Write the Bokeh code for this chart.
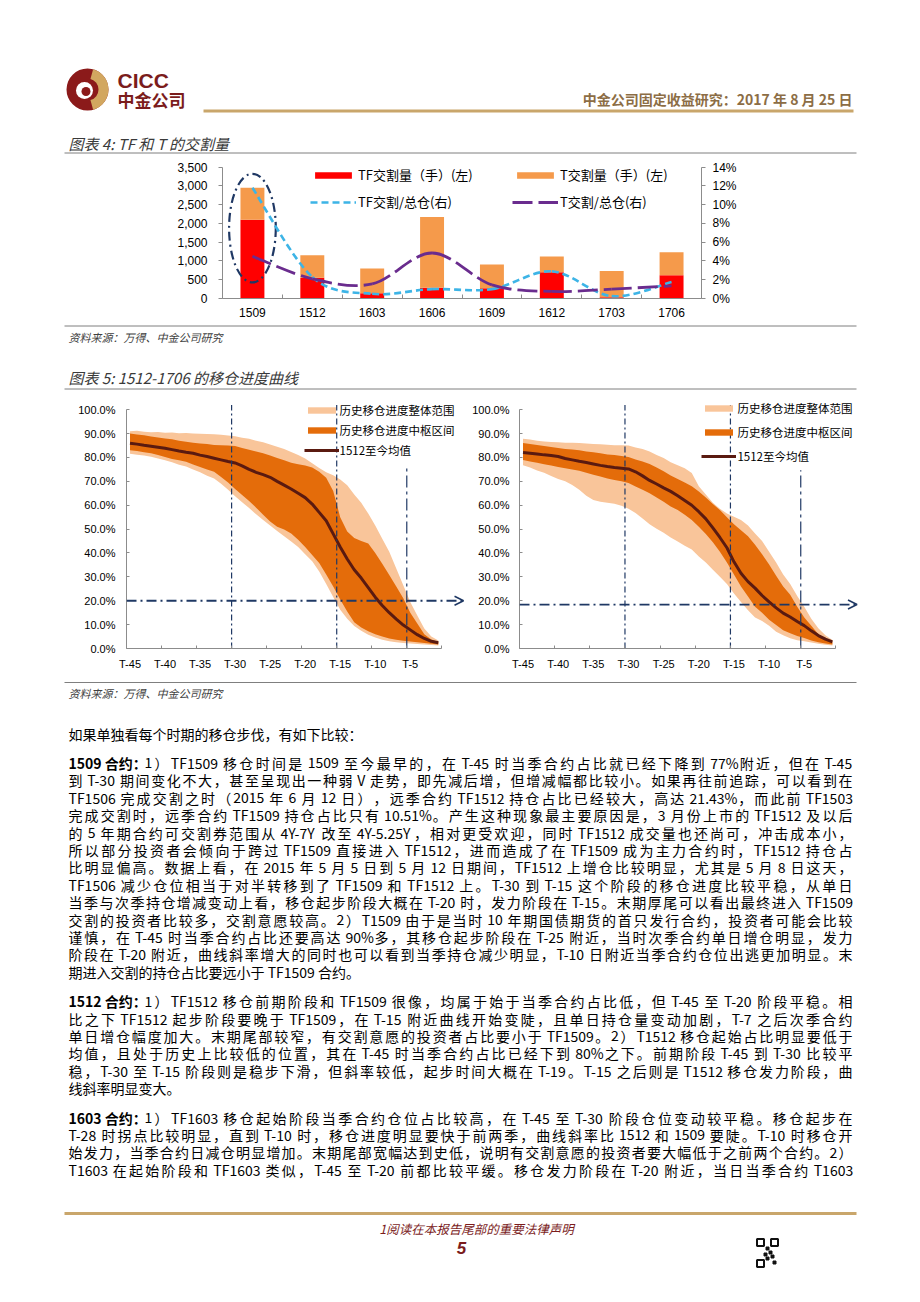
from bokeh.plotting import figure
from bokeh.models import (Range1d, LinearAxis, Legend, LegendItem, FixedTicker,
                          NumeralTickFormatter, PrintfTickFormatter, Arrow, OpenHead,
                          ColumnDataSource)
from bokeh.layouts import column, row
from bokeh.core.properties import value
from bokeh.embed import file_html
from bokeh.resources import INLINE

# ---------------- chart 4 data ----------------
contracts = ["1509", "1512", "1603", "1606", "1609", "1612", "1703", "1706"]
tf_delivery = [2100, 550, 140, 285, 275, 700, 35, 620]       # lots, left axis
t_delivery = [855, 605, 660, 1890, 630, 420, 695, 615]        # lots, left axis
tf_ratio = [11.8, 2.3, 0.5, 1.0, 1.0, 2.9, 0.25, 1.75]        # %, right axis
t_ratio = [4.5, 2.1, 1.55, 4.85, 1.45, 0.75, 1.0, 1.35]       # %, right axis
left_ticks = [0, 500, 1000, 1500, 2000, 2500, 3000, 3500]
right_ticks = [0, 2, 4, 6, 8, 10, 12, 14]

# ---------------- chart 5 data ----------------
day_labels = ["T-%d" % d for d in range(45, 0, -1)]
tick_days = ["T-45", "T-40", "T-35", "T-30", "T-25", "T-20", "T-15", "T-10", "T-5"]
marker_days = ["T-30", "T-15", "T-5"]
pct_ticks = [0, 10, 20, 30, 40, 50, 60, 70, 80, 90, 100]

L_outer_hi = [91.0, 91.2, 90.8, 90.6, 90.7, 90.4, 90.5, 90.2, 90.3, 90.0, 89.9, 89.8, 89.7, 89.5, 89.2,
              88.9, 88.3, 87.8, 87.0, 86.4, 85.4, 84.5, 83.6, 82.3, 81.0, 79.6, 77.6, 75.6, 73.8, 72.6,
              70.8, 68.4, 64.5, 61.0, 56.5, 51.5, 46.0, 40.5, 33.5, 26.5, 19.5, 13.8, 8.4, 5.0, 3.4]
L_outer_lo = [81.6, 81.2, 80.8, 80.3, 79.6, 78.8, 78.0, 77.0, 76.2, 75.0, 73.8, 72.4, 71.2, 69.0, 66.5,
              63.8, 61.3, 58.8, 56.2, 53.8, 51.5, 49.2, 47.0, 44.8, 42.5, 39.5, 36.5, 32.2, 27.0, 21.6,
              16.2, 12.5, 9.4, 7.4, 5.8, 4.6, 3.7, 3.0, 2.6, 2.3, 2.1, 1.9, 1.7, 1.5, 1.3]
L_inner_hi = [90.0, 89.6, 89.3, 88.8, 88.4, 88.0, 87.6, 87.0, 86.6, 86.2, 85.9, 85.6, 85.2, 85.1, 85.0,
              84.8, 84.0, 83.2, 82.5, 81.8, 80.8, 79.8, 78.8, 77.8, 77.2, 76.6, 75.8, 74.0, 71.5, 66.0,
              55.0, 49.0, 46.3, 45.0, 44.0, 40.0, 35.5, 30.8, 26.0, 21.0, 15.0, 10.5, 6.0, 3.8, 2.6]
L_inner_lo = [83.0, 82.7, 82.2, 81.8, 81.0, 80.2, 79.4, 78.8, 78.2, 77.1, 76.0, 75.0, 74.0, 71.8, 69.5,
              66.8, 64.3, 61.8, 59.0, 56.0, 53.2, 51.0, 49.8, 48.2, 45.5, 42.5, 39.2, 35.8, 31.0, 26.0,
              20.5, 15.5, 11.0, 8.8, 7.2, 6.0, 5.0, 4.2, 3.7, 3.2, 2.9, 2.6, 2.3, 2.0, 1.7]
L_mean = [86.0, 85.6, 85.1, 84.7, 84.3, 83.9, 83.3, 82.7, 82.2, 81.8, 81.0, 80.4, 79.7, 79.0, 78.3,
          77.7, 76.5, 75.0, 73.8, 72.8, 71.7, 70.0, 68.4, 66.8, 65.0, 63.2, 60.5, 57.0, 53.5, 48.0,
          42.5, 37.5, 33.0, 29.5, 25.5, 21.5, 18.0, 15.0, 12.3, 9.8, 7.8, 5.8, 4.2, 3.0, 2.4]
L_threshold = 20.0

R_outer_hi = [87.9, 87.5, 87.0, 86.7, 86.5, 86.4, 86.2, 86.2, 86.1, 85.9, 85.7, 85.5, 85.3, 85.1, 85.1,
              85.0, 84.2, 83.6, 82.5, 81.0, 79.8, 78.0, 76.8, 75.5, 73.5, 68.0, 64.5, 61.0, 58.5, 56.5,
              55.2, 53.8, 51.5, 48.2, 45.0, 40.5, 36.0, 31.0, 27.0, 22.0, 17.5, 12.5, 8.5, 5.5, 3.6]
R_outer_lo = [76.8, 75.8, 74.6, 73.6, 72.3, 71.0, 70.0, 68.5, 66.5, 64.0, 62.2, 61.5, 61.0, 60.6, 59.8,
              58.5, 56.8, 54.5, 52.0, 50.2, 48.5, 46.5, 44.8, 43.0, 41.5, 38.5, 36.0, 33.0, 30.0, 27.0,
              23.0, 19.5, 16.0, 13.0, 11.5, 9.5, 7.0, 5.5, 4.3, 3.5, 3.0, 2.5, 2.0, 1.6, 1.3]
R_inner_hi = [86.1, 85.6, 85.2, 84.8, 84.4, 84.0, 83.6, 83.3, 83.0, 82.5, 82.2, 81.8, 81.3, 81.0, 80.6,
              80.2, 79.2, 78.3, 77.3, 75.8, 74.2, 72.5, 71.0, 69.5, 68.0, 65.8, 63.2, 60.5, 58.0, 55.0,
              52.0, 49.5, 47.0, 43.5, 39.5, 35.2, 30.5, 26.0, 22.5, 17.5, 13.0, 9.5, 6.0, 4.0, 2.8]
R_inner_lo = [78.9, 78.3, 77.8, 77.2, 76.6, 76.0, 75.5, 75.0, 74.4, 73.6, 72.8, 72.0, 71.2, 70.6, 70.0,
              69.3, 67.8, 66.5, 65.0, 63.2, 61.5, 59.5, 58.0, 56.0, 53.8, 51.0, 48.0, 44.5, 40.5, 36.0,
              31.0, 26.0, 21.8, 17.5, 15.0, 12.0, 9.8, 7.6, 6.4, 5.2, 4.4, 3.4, 2.6, 2.1, 1.7]
R_mean = [82.1, 81.8, 81.5, 81.1, 80.8, 80.4, 79.6, 79.0, 78.4, 77.9, 77.3, 76.7, 76.2, 75.8, 75.5,
          75.2, 74.0, 72.3, 70.4, 68.9, 67.3, 65.8, 64.0, 62.0, 60.0, 57.3, 54.3, 50.5, 46.5, 42.2,
          36.3, 31.5, 28.0, 25.3, 22.2, 19.5, 17.0, 14.8, 13.2, 11.3, 9.6, 7.4, 5.4, 3.9, 2.8]
R_threshold = 18.4

# ---------------- page text ----------------
intro = "如果单独看每个时期的移仓步伐，有如下比较："
paragraphs = [
    ("1509 合约：", [
        "1）TF1509 移仓时间是 1509 至今最早的，在 T-45 时当季合约占比就已经下降到 77%附近，但在 T-45",
        "到 T-30 期间变化不大，甚至呈现出一种弱 V 走势，即先减后增，但增减幅都比较小。如果再往前追踪，可以看到在",
        "TF1506 完成交割之时（2015 年 6 月 12 日），远季合约 TF1512 持仓占比已经较大，高达 21.43%，而此前 TF1503",
        "完成交割时，远季合约 TF1509 持仓占比只有 10.51%。产生这种现象最主要原因是，3 月份上市的 TF1512 及以后",
        "的 5 年期合约可交割券范围从 4Y-7Y 改至 4Y-5.25Y，相对更受欢迎，同时 TF1512 成交量也还尚可，冲击成本小，",
        "所以部分投资者会倾向于跨过 TF1509 直接进入 TF1512，进而造成了在 TF1509 成为主力合约时，TF1512 持仓占",
        "比明显偏高。数据上看，在 2015 年 5 月 5 日到 5 月 12 日期间，TF1512 上增仓比较明显，尤其是 5 月 8 日这天，",
        "TF1506 减少仓位相当于对半转移到了 TF1509 和 TF1512 上。T-30 到 T-15 这个阶段的移仓进度比较平稳，从单日",
        "当季与次季持仓增减变动上看，移仓起步阶段大概在 T-20 时，发力阶段在 T-15。末期厚尾可以看出最终进入 TF1509",
        "交割的投资者比较多，交割意愿较高。2）T1509 由于是当时 10 年期国债期货的首只发行合约，投资者可能会比较",
        "谨慎，在 T-45 时当季合约占比还要高达 90%多，其移仓起步阶段在 T-25 附近，当时次季合约单日增仓明显，发力",
        "阶段在 T-20 附近，曲线斜率增大的同时也可以看到当季持仓减少明显，T-10 日附近当季合约仓位出逃更加明显。末",
        "期进入交割的持仓占比要远小于 TF1509 合约。",
    ]),
    ("1512 合约：", [
        "1）TF1512 移仓前期阶段和 TF1509 很像，均属于始于当季合约占比低，但 T-45 至 T-20 阶段平稳。相",
        "比之下 TF1512 起步阶段要晚于 TF1509，在 T-15 附近曲线开始变陡，且单日持仓量变动加剧，T-7 之后次季合约",
        "单日增仓幅度加大。末期尾部较窄，有交割意愿的投资者占比要小于 TF1509。2）T1512 移仓起始占比明显要低于",
        "均值，且处于历史上比较低的位置，其在 T-45 时当季合约占比已经下到 80%之下。前期阶段 T-45 到 T-30 比较平",
        "稳，T-30 至 T-15 阶段则是稳步下滑，但斜率较低，起步时间大概在 T-19。T-15 之后则是 T1512 移仓发力阶段，曲",
        "线斜率明显变大。",
    ]),
    ("1603 合约：", [
        "1）TF1603 移仓起始阶段当季合约仓位占比较高，在 T-45 至 T-30 阶段仓位变动较平稳。移仓起步在",
        "T-28 时拐点比较明显，直到 T-10 时，移仓进度明显要快于前两季，曲线斜率比 1512 和 1509 要陡。T-10 时移仓开",
        "始发力，当季合约日减仓明显增加。末期尾部宽幅达到史低，说明有交割意愿的投资者要大幅低于之前两个合约。2）",
        "T1603 在起始阶段和 TF1603 类似，T-45 至 T-20 前都比较平缓。移仓发力阶段在 T-20 附近，当日当季合约 T1603",
    ]),
]
# the last paragraph is cut by the page break, so its final line is justified too
last_line_justified = [False, False, True]

CJK = "Noto Sans CJK SC"
LAT = "Liberation Sans"
NAVY = "#1F3864"
GOLD = "#C9A66B"
MAROON = "#7B1C1C"
W = 912


def canvas(y0, y1):
    p = figure(width=W, height=int(round(y1 - y0)), x_range=Range1d(0, W),
               y_range=Range1d(y1, y0), output_backend="svg", toolbar_location=None,
               min_border=0, x_axis_location=None, y_axis_location=None,
               outline_line_color=None)
    p.grid.visible = False
    return p


def txt(p, x, y, s, size, color="#000000", font=CJK, style="normal", align="left"):
    p.text(x=[x], y=[y], text=[s], text_font=value(font), text_font_size=value("%spx" % size),
           text_color=color, text_font_style=style, text_align=align, text_baseline="middle")


def hline(p, x0, x1, y, color, width):
    p.segment(x0=[x0], y0=[y], x1=[x1], y1=[y], line_color=color, line_width=width)


# ---------------- top canvas (header + chart 4 title) ----------------
top = canvas(0, 160)
top.circle(x=[87], y=[89], radius=21, fill_color="#8B1A1A", line_color=None)
top.annular_wedge(x=[87], y=[89], inner_radius=11, outer_radius=21, start_angle=-1.3,
                  end_angle=1.3, fill_color="#D2A760", line_color=None)
top.circle(x=[84], y=[90], radius=8.5, fill_color="#FFFFFF", line_color=None)
top.circle(x=[85.5], y=[91], radius=4.5, fill_color="#8B1A1A", line_color=None)
txt(top, 117, 80, "CICC", 21, MAROON, LAT, "bold")
txt(top, 117, 99, "中金公司", 17, MAROON, CJK, "bold")
txt(top, 852, 98, "中金公司固定收益研究：2017 年 8 月 25 日", 14, "#8C6D45", CJK, "bold", "right")
hline(top, 203, 853, 110.5, GOLD, 3)
txt(top, 68, 143, "图表 4: TF 和 T 的交割量", 15, "#3A3A3A", CJK, "italic")
hline(top, 64, 856, 152.5, "#7F7F7F", 1)

# ---------------- chart 4 ----------------
n4 = len(contracts)
xs4 = [i + 0.5 for i in range(n4)]
AXIS4_PX = 131.3          # pixel length of the 0..3500 axis
FRAME4_PX = 138           # frame height
p4 = figure(width=W, height=164, x_range=Range1d(0, n4),
            y_range=Range1d(0, left_ticks[-1] * FRAME4_PX / AXIS4_PX),
            output_backend="svg", toolbar_location=None, min_border_left=222,
            min_border_right=211, min_border_top=0, min_border_bottom=26,
            outline_line_color=None)
p4.grid.visible = False
p4.extra_y_ranges = {"pct": Range1d(0, right_ticks[-1] * FRAME4_PX / AXIS4_PX)}

src4 = ColumnDataSource(dict(x=xs4, tf=tf_delivery, t=t_delivery))
bars = p4.vbar_stack(["tf", "t"], x="x", width=0.4, source=src4,
                     fill_color=["#FF0000", "#F59A4B"], line_color=None)

# highlight ellipse around the first contract
tot0 = tf_delivery[0] + t_delivery[0]
p4.ellipse(x=[xs4[0]], y=[tot0 * 0.635], width=[0.78], height=[tot0 * 0.98],
           fill_color=None, line_color=NAVY, line_width=2.2, line_dash="9 4 2 4")


def smooth(xv, yv):
    n = len(xv)
    d = dict(x0=[], y0=[], x1=[], y1=[], cx0=[], cy0=[], cx1=[], cy1=[])
    for i in range(n - 1):
        ip = max(i - 1, 0)
        i2 = min(i + 2, n - 1)
        d["x0"].append(xv[i]); d["y0"].append(yv[i])
        d["x1"].append(xv[i + 1]); d["y1"].append(yv[i + 1])
        d["cx0"].append(xv[i] + (xv[i + 1] - xv[ip]) / 6.0)
        d["cy0"].append(yv[i] + (yv[i + 1] - yv[ip]) / 6.0)
        d["cx1"].append(xv[i + 1] - (xv[i2] - xv[i]) / 6.0)
        d["cy1"].append(yv[i + 1] - (yv[i2] - yv[i]) / 6.0)
    return ColumnDataSource(d)


BLUE = "#3DB4E6"
PURPLE = "#6A2C8E"
p4.bezier(x0="x0", y0="y0", x1="x1", y1="y1", cx0="cx0", cy0="cy0", cx1="cx1", cy1="cy1",
          source=smooth(xs4, tf_ratio), y_range_name="pct", line_color=BLUE,
          line_width=2.6, line_dash="7 4")
p4.bezier(x0="x0", y0="y0", x1="x1", y1="y1", cx0="cx0", cy0="cy0", cx1="cx1", cy1="cy1",
          source=smooth(xs4, t_ratio), y_range_name="pct", line_color=PURPLE,
          line_width=2.8, line_dash="20 6")
# one-point lines (draw nothing) that carry the legend swatches of the two ratio series
leg_tf_line = p4.line(x=xs4[:1], y=tf_ratio[:1], y_range_name="pct", line_color=BLUE,
                      line_width=2.6, line_dash="7 4")
leg_t_line = p4.line(x=xs4[:1], y=t_ratio[:1], y_range_name="pct", line_color=PURPLE,
                     line_width=2.8, line_dash="20 6")


def style_axis(ax, size, color="#8C8C8C"):
    ax.axis_line_color = color
    ax.major_tick_line_color = color
    ax.minor_tick_line_color = None
    ax.major_label_text_font = LAT
    ax.major_label_text_font_size = size
    ax.major_label_text_color = "#000000"


ya = p4.yaxis[0]
ya.ticker = FixedTicker(ticks=left_ticks)
ya.formatter = NumeralTickFormatter(format="0,0")
ya.bounds = (left_ticks[0], left_ticks[-1])
style_axis(ya, "12px")
ya.major_tick_out = 4
ya.major_tick_in = 0
ya.major_label_standoff = 11

yr = LinearAxis(y_range_name="pct", ticker=FixedTicker(ticks=right_ticks),
                formatter=PrintfTickFormatter(format="%d%%"),
                bounds=(right_ticks[0], right_ticks[-1]))
style_axis(yr, "12px")
yr.major_tick_out = 4
yr.major_tick_in = 0
yr.major_label_standoff = 7
p4.add_layout(yr, "right")

xa = p4.xaxis[0]
xa.ticker = FixedTicker(ticks=xs4, minor_ticks=list(range(n4 + 1)))
xa.major_label_overrides = {x: c for x, c in zip(xs4, contracts)}
style_axis(xa, "12px")
xa.major_tick_line_color = None
xa.major_tick_out = 0
xa.major_tick_in = 0
xa.minor_tick_line_color = "#8C8C8C"
xa.minor_tick_in = 4
xa.minor_tick_out = 0
xa.major_label_standoff = 9


def make_legend(items, loc, spacing, gw, gh, lh, standoff, size):
    lg = Legend(items=items, location=loc, orientation="vertical", spacing=spacing,
                glyph_width=gw, glyph_height=gh, label_height=lh, label_standoff=standoff,
                padding=0, margin=0, border_line_color=None, background_fill_alpha=0,
                label_text_font=CJK, label_text_font_size=size, label_text_color="#000000")
    return lg


p4.add_layout(make_legend([LegendItem(label="TF交割量（手）(左)", renderers=[bars[0]]),
                           LegendItem(label="TF交割/总仓(右)", renderers=[leg_tf_line])],
                          (88, 87), 8, 46, 8, 16, 2, "13px"))
p4.add_layout(make_legend([LegendItem(label="T交割量（手）(左)", renderers=[bars[1]]),
                           LegendItem(label="T交割/总仓(右)", renderers=[leg_t_line])],
                          (290, 87), 8, 46, 8, 16, 2, "13px"))

# ---------------- middle canvas ----------------
mid = canvas(324, 394)
hline(mid, 64, 856, 325.5, "#7F7F7F", 1)
txt(mid, 68, 336.5, "资料来源：万得、中金公司研究", 11, "#404040", CJK, "italic")
txt(mid, 68, 377, "图表 5: 1512-1706 的移仓进度曲线", 15, "#3A3A3A", CJK, "italic")
hline(mid, 64, 856, 388.5, "#7F7F7F", 1)

# ---------------- chart 5 ----------------
OUTER = "#F9C59A"
INNER = "#E46C0A"
MEANC = "#5A1A10"
AXIS5_PX = 239.7   # pixel length of the 0..100% axis
FRAME5_PX = 255    # frame height


def progress_chart(width, bl, fw, x_end, o_hi, o_lo, i_hi, i_lo, mean, thr, t5_top,
                   arrow_end, leg_loc, leg_spacing, y_standoff):
    n = len(day_labels)
    xs = [i + 0.5 for i in range(n)]
    p = figure(width=width, height=278, x_range=Range1d(0, x_end),
               y_range=Range1d(0, pct_ticks[-1] * FRAME5_PX / AXIS5_PX),
               output_backend="svg", toolbar_location=None, min_border_left=bl,
               min_border_right=width - bl - fw, min_border_top=0, min_border_bottom=23,
               outline_line_color=None)
    p.grid.visible = False
    r_out = p.varea(x=xs, y1=o_lo, y2=o_hi, fill_color=OUTER)
    r_in = p.varea(x=xs, y1=i_lo, y2=i_hi, fill_color=INNER)
    r_mean = p.line(x=xs, y=mean, line_color=MEANC, line_width=3)

    mx = [day_labels.index(d) for d in marker_days]
    p.segment(x0=mx[:2], y0=[0, 0], x1=mx[:2], y1=[102, 102], line_color=NAVY,
              line_width=1.2, line_dash="6 3 2 3")
    p.segment(x0=mx[2:], y0=[0], x1=mx[2:], y1=[t5_top], line_color=NAVY,
              line_width=1.2, line_dash="12 4 3 4")
    p.add_layout(Arrow(end=OpenHead(size=9, line_color=NAVY, line_width=1.6),
                       x_start=0, y_start=thr, x_end=arrow_end, y_end=thr,
                       line_color=NAVY, line_width=1.8, line_dash="10 4 2 4"))

    ya = p.yaxis[0]
    ya.ticker = FixedTicker(ticks=pct_ticks)
    ya.formatter = PrintfTickFormatter(format="%.1f%%")
    ya.bounds = (pct_ticks[0], pct_ticks[-1])
    style_axis(ya, "11px")
    ya.major_tick_in = 3
    ya.major_tick_out = 0
    ya.major_label_standoff = y_standoff

    xa = p.xaxis[0]
    tx = [day_labels.index(d) + 0.5 for d in tick_days]
    xa.ticker = FixedTicker(ticks=tx, minor_ticks=[t - 0.5 for t in tx] + [n])
    xa.major_label_overrides = {t: d for t, d in zip(tx, tick_days)}
    xa.bounds = (0, n)
    style_axis(xa, "11px")
    xa.major_tick_line_color = None
    xa.major_tick_in = 0
    xa.major_tick_out = 0
    xa.minor_tick_line_color = "#8C8C8C"
    xa.minor_tick_in = 3
    xa.minor_tick_out = 0
    xa.major_label_standoff = 9

    p.add_layout(make_legend([LegendItem(label="历史移仓进度整体范围", renderers=[r_out]),
                              LegendItem(label="历史移仓进度中枢区间", renderers=[r_in]),
                              LegendItem(label="1512至今均值", renderers=[r_mean])],
                             leg_loc, leg_spacing, 35, 8, 14, 1, "11.5px"))
    return p


p5a = progress_chart(465, 126, 339, 48.38, L_outer_hi, L_outer_lo, L_inner_hi, L_inner_lo,
                     L_mean, L_threshold, 76.8, 48.1, (177.5, 190), 4, 11)
p5b = progress_chart(447, 54, 342, 48.64, R_outer_hi, R_outer_lo, R_inner_hi, R_inner_lo,
                     R_mean, R_threshold, 74.7, 48.0, (182.4, 184), 8, 10)

# ---------------- bottom canvas ----------------
bot = canvas(672, 1298)
hline(bot, 64, 856, 682, "#7F7F7F", 1)
txt(bot, 68, 692, "资料来源：万得、中金公司研究", 11, "#404040", CJK, "italic")

BODY = 14
STEP = 17.4
GAP = 29.4
LEFT, RIGHT = 68, 852


def is_wide(ch):
    return ord(ch) >= 0x2E80


def est_width(s, size):
    w = 0.0
    for ch in s:
        if is_wide(ch):
            w += 1.0
        elif ch.isdigit():
            w += 0.55
        elif ch.isupper():
            w += 0.57
        elif ch == " ":
            w += 0.224
        elif ch == "-":
            w += 0.33
        elif ch == ".":
            w += 0.27
        elif ch == "%":
            w += 0.85
        else:
            w += 0.5
    return w * size


def atoms_of(line):
    """wide characters one by one, Latin runs kept whole; spaces become natural gaps"""
    atoms, cur = [], ""
    for ch in line:
        if ch == " ":
            if cur:
                atoms.append([cur, 0.0])
                cur = ""
            if atoms:
                atoms[-1][1] += est_width(" ", BODY)
        elif is_wide(ch):
            if cur:
                atoms.append([cur, 0.0])
                cur = ""
            atoms.append([ch, 0.0])
        else:
            cur += ch
    if cur:
        atoms.append([cur, 0.0])
    return atoms


body = dict(x=[], y=[], text=[])


def put_line(line, x0, y, justify):
    if not justify:
        body["x"].append(x0); body["y"].append(y); body["text"].append(line)
        return
    atoms = atoms_of(line)
    widths = [est_width(t, BODY) for t, _ in atoms]
    natural = sum(widths) + sum(g for _, g in atoms[:-1])
    extra = (RIGHT - x0 - natural) / max(len(atoms) - 1, 1)
    x = x0
    for k, (t, g) in enumerate(atoms):
        if k == len(atoms) - 1 and k > 0:
            x = RIGHT - widths[k]
        body["x"].append(x); body["y"].append(y); body["text"].append(t)
        x += widths[k] + g + extra


put_line(intro, LEFT, 733, False)
y = 733 + GAP
for pi, (head, lines) in enumerate(paragraphs):
    txt(bot, LEFT, y, head, BODY, "#000000", CJK, "bold")
    for li, ln in enumerate(lines):
        last = li == len(lines) - 1
        put_line(ln, 144 if li == 0 else LEFT, y, (not last) or last_line_justified[pi])
        if not last:
            y += STEP
    y += GAP

bot.text(x="x", y="y", text="text", source=ColumnDataSource(body), text_font=value(CJK),
         text_font_size=value("%dpx" % BODY), text_color="#000000", text_align="left",
         text_baseline="middle")

hline(bot, 64, 856, 1213, GOLD, 3)
txt(bot, 476, 1228, "1阅读在本报告尾部的重要法律声明", 12.5, MAROON, CJK, "italic", "center")
txt(bot, 461, 1247, "5", 17, MAROON, LAT, "bold italic", "center")
# QR-style mark
bot.rect(x=[760, 774, 760], y=[1242, 1242, 1263], width=7, height=7, fill_color="#FFFFFF",
         line_color="#111111", line_width=2)
bot.rect(x=[767, 770, 767, 774, 765, 772], y=[1248, 1252, 1258, 1262, 1254, 1256], width=3,
         height=3, color="#111111")

page = column(row(top), row(p4), row(mid), row(p5a, p5b), row(bot), spacing=0)
open("out.html", "w").write(file_html(page, INLINE))
